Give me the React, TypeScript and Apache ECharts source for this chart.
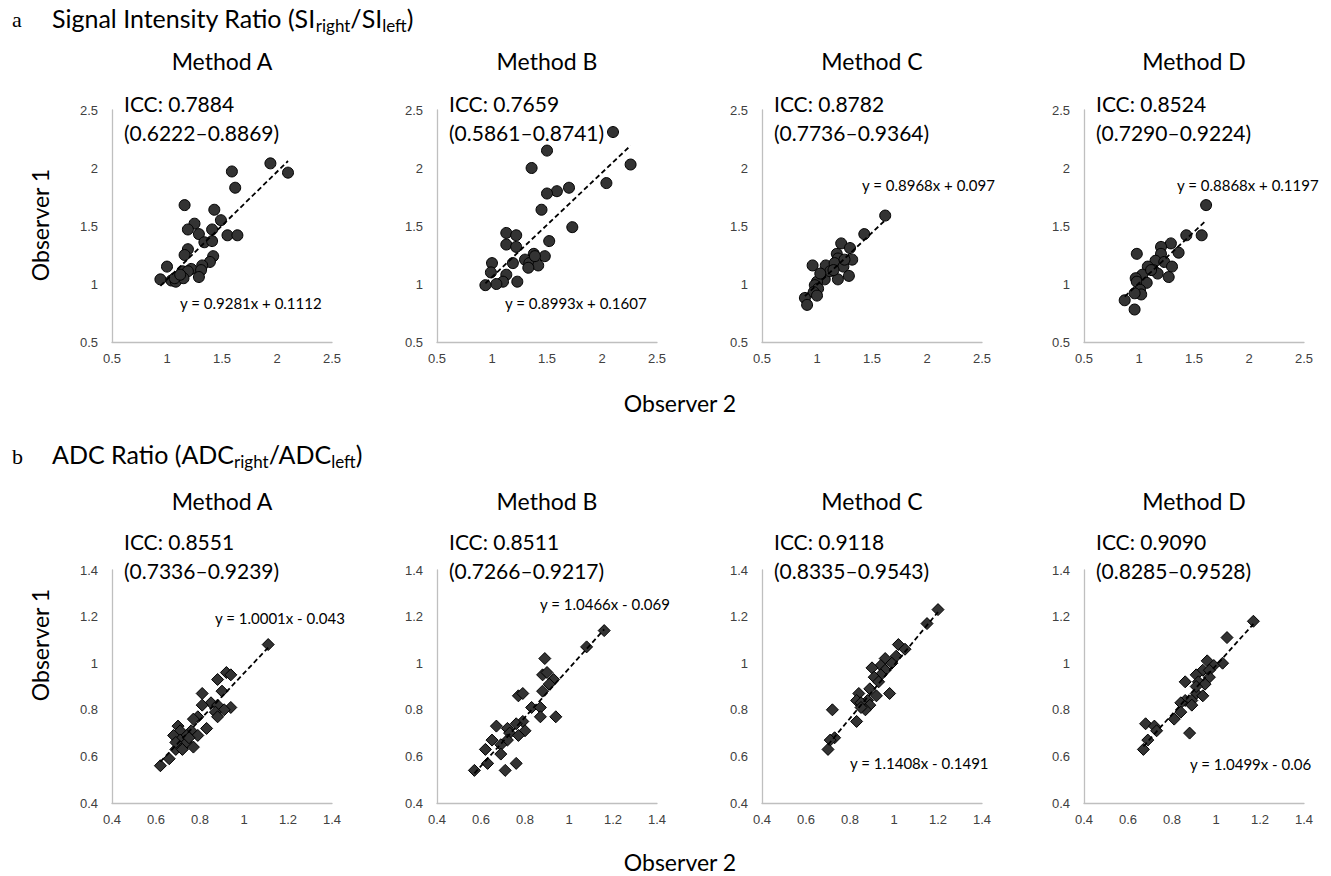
import React, { useEffect, useRef } from "react";
import * as echarts from "echarts";

// ---------- DATA ----------
// Row a: Signal Intensity Ratio (Observer 2 = x, Observer 1 = y)
const siMethodA: number[][] = [
  [1.94, 2.04], [2.10, 1.96], [1.59, 1.97], [1.62, 1.83], [1.16, 1.68], [1.43, 1.64], [1.49, 1.55], [1.25, 1.52],
  [1.19, 1.47], [1.41, 1.47], [1.29, 1.43], [1.55, 1.42], [1.64, 1.42], [1.34, 1.36], [1.41, 1.37], [1.19, 1.30],
  [1.16, 1.25], [1.42, 1.24], [1.39, 1.19], [1.00, 1.15], [1.32, 1.16], [1.22, 1.13], [1.14, 1.11], [1.31, 1.12],
  [1.19, 1.11], [0.94, 1.04], [1.04, 1.03], [1.08, 1.02], [1.15, 1.05], [1.29, 1.06], [1.07, 1.05], [1.12, 1.08],
];
const siMethodB: number[][] = [
  [2.10, 2.31], [1.50, 2.15], [1.36, 2.00], [2.26, 2.03], [2.04, 1.87], [1.70, 1.83], [1.59, 1.80], [1.50, 1.78],
  [1.45, 1.64], [1.73, 1.49], [1.52, 1.37], [1.13, 1.44], [1.22, 1.42], [1.13, 1.34], [1.22, 1.32], [1.38, 1.26],
  [1.48, 1.24], [1.30, 1.21], [1.19, 1.18], [1.34, 1.18], [1.42, 1.16], [1.33, 1.14], [1.00, 1.18], [0.99, 1.10],
  [1.13, 1.08], [1.10, 1.02], [1.04, 1.00], [0.94, 0.99], [1.23, 1.02], [1.39, 1.24],
];
const siMethodC: number[][] = [
  [1.62, 1.59], [1.43, 1.43], [1.22, 1.35], [1.30, 1.31], [1.18, 1.26], [1.32, 1.21], [1.19, 1.22], [0.96, 1.16],
  [1.08, 1.16], [1.16, 1.18], [1.24, 1.15], [1.29, 1.07], [1.19, 1.04], [1.07, 1.04], [1.00, 1.02], [0.98, 0.99],
  [1.01, 0.96], [0.97, 0.93], [1.00, 0.90], [0.89, 0.88], [0.91, 0.82], [1.12, 1.11], [1.03, 1.09], [1.25, 1.21],
  [1.15, 1.12],
];
const siMethodD: number[][] = [
  [1.61, 1.68], [1.57, 1.42], [1.43, 1.42], [1.29, 1.35], [1.20, 1.32], [1.36, 1.27], [0.98, 1.26], [1.20, 1.26],
  [1.15, 1.20], [1.23, 1.19], [1.08, 1.15], [1.30, 1.15], [1.13, 1.12], [1.17, 1.09], [1.27, 1.06], [1.03, 1.08],
  [0.97, 1.05], [0.98, 1.02], [1.07, 1.01], [1.01, 0.95], [1.02, 0.91], [0.96, 0.92], [0.87, 0.86], [0.96, 0.78],
  [1.11, 1.12],
];

// Row b: ADC Ratio
const adcMethodA: number[][] = [
  [1.11, 1.08], [0.92, 0.96], [0.94, 0.95], [0.88, 0.93], [0.90, 0.88], [0.81, 0.87], [0.85, 0.83], [0.88, 0.82],
  [0.81, 0.82], [0.94, 0.81], [0.91, 0.80], [0.87, 0.79], [0.88, 0.77], [0.79, 0.77], [0.77, 0.76], [0.83, 0.72],
  [0.70, 0.73], [0.71, 0.71], [0.76, 0.71], [0.68, 0.69], [0.74, 0.69], [0.79, 0.69], [0.71, 0.67], [0.74, 0.66],
  [0.77, 0.64], [0.69, 0.63], [0.72, 0.63], [0.66, 0.59], [0.62, 0.56], [0.69, 0.66], [0.75, 0.68],
];
const adcMethodB: number[][] = [
  [1.16, 1.14], [1.08, 1.07], [0.89, 1.02], [0.88, 0.95], [0.90, 0.96], [0.93, 0.93], [0.91, 0.91], [0.88, 0.88],
  [0.77, 0.86], [0.79, 0.87], [0.83, 0.81], [0.87, 0.81], [0.87, 0.77], [0.94, 0.77], [0.79, 0.75], [0.76, 0.74],
  [0.67, 0.73], [0.72, 0.72], [0.80, 0.71], [0.73, 0.70], [0.77, 0.69], [0.72, 0.67], [0.65, 0.67], [0.69, 0.65],
  [0.62, 0.63], [0.69, 0.61], [0.63, 0.57], [0.76, 0.57], [0.71, 0.54], [0.57, 0.54],
];
const adcMethodC: number[][] = [
  [1.20, 1.23], [1.15, 1.17], [1.02, 1.08], [1.05, 1.06], [1.01, 1.03], [0.96, 1.02], [0.99, 1.00], [0.94, 0.99],
  [0.90, 0.98], [0.96, 0.97], [0.94, 0.95], [0.91, 0.94], [0.93, 0.92], [0.89, 0.89], [0.98, 0.87], [0.84, 0.87],
  [0.92, 0.86], [0.83, 0.84], [0.88, 0.84], [0.85, 0.83], [0.89, 0.82], [0.87, 0.80], [0.72, 0.80], [0.83, 0.75],
  [0.73, 0.68], [0.71, 0.67], [0.70, 0.63], [0.85, 0.81],
];
const adcMethodD: number[][] = [
  [1.17, 1.18], [1.05, 1.11], [1.03, 1.00], [0.96, 1.01], [0.99, 0.99], [0.94, 0.97], [0.97, 0.97], [0.91, 0.95],
  [0.97, 0.94], [0.92, 0.92], [0.86, 0.92], [0.95, 0.91], [0.91, 0.87], [0.94, 0.86], [0.86, 0.84], [0.89, 0.84],
  [0.84, 0.83], [0.89, 0.82], [0.84, 0.79], [0.81, 0.76], [0.88, 0.70], [0.68, 0.74], [0.72, 0.73], [0.73, 0.71],
  [0.69, 0.67], [0.67, 0.63], [0.91, 0.90],
];

const methodNames = ["Method A", "Method B", "Method C", "Method D"];
const siSlopes = [0.9281, 0.8993, 0.8968, 0.8868];
const siIntercepts = [0.1112, 0.1607, 0.097, 0.1197];
const adcSlopes = [1.0001, 1.0466, 1.1408, 1.0499];
const adcIntercepts = [-0.043, -0.069, -0.1491, -0.06];
const siIcc = ["ICC: 0.7884", "ICC: 0.7659", "ICC: 0.8782", "ICC: 0.8524"];
const siCi = ["(0.6222–0.8869)", "(0.5861–0.8741)", "(0.7736–0.9364)", "(0.7290–0.9224)"];
const adcIcc = ["ICC: 0.8551", "ICC: 0.8511", "ICC: 0.9118", "ICC: 0.9090"];
const adcCi = ["(0.7336–0.9239)", "(0.7266–0.9217)", "(0.8335–0.9543)", "(0.8285–0.9528)"];
const siEquations = ["y = 0.9281x + 0.1112", "y = 0.8993x + 0.1607", "y = 0.8968x + 0.097", "y = 0.8868x + 0.1197"];
const adcEquations = ["y = 1.0001x - 0.043", "y = 1.0466x - 0.069", "y = 1.1408x - 0.1491", "y = 1.0499x - 0.06"];
const siAxisMin = 0.5, siAxisMax = 2.5, siAxisStep = 0.5;
const adcAxisMin = 0.4, adcAxisMax = 1.4, adcAxisStep = 0.2;

// ---------- LAYOUT (positions / styles) ----------
const FONT = "Lato, 'Open Sans', sans-serif";
const TICK_FONT = "'Liberation Sans', Arial, sans-serif";
const plotLefts = [112, 437, 762, 1084];
const plotWidth = 220;
const rowTops = [110, 570];
const rowHeights = [232, 233];
const methodTitleY = [61, 501];
const iccTextY = [103, 541];
const rowTitleY = [2, 438];
const letterY = [19, 456];
const siEqPos = [[180, 303], [505, 303], [862, 185], [1177, 185]];
const adcEqPos = [[215, 618], [540, 604], [850, 763], [1190, 764]];

const fmt = (v: number) => String(parseFloat(v.toFixed(2)));

function buildOption() {
  const grids: any[] = [];
  const xAxes: any[] = [];
  const yAxes: any[] = [];
  const series: any[] = [];
  const graphics: any[] = [];

  const rows = [
    {
      data: [siMethodA, siMethodB, siMethodC, siMethodD],
      slopes: siSlopes, intercepts: siIntercepts,
      min: siAxisMin, max: siAxisMax, step: siAxisStep,
      symbol: "circle", size: 11, icc: siIcc, ci: siCi, eq: siEquations, eqPos: siEqPos,
    },
    {
      data: [adcMethodA, adcMethodB, adcMethodC, adcMethodD],
      slopes: adcSlopes, intercepts: adcIntercepts,
      min: adcAxisMin, max: adcAxisMax, step: adcAxisStep,
      symbol: "diamond", size: 12, icc: adcIcc, ci: adcCi, eq: adcEquations, eqPos: adcEqPos,
    },
  ];

  const axisCommon = {
    axisLine: { show: true, onZero: false, lineStyle: { color: "#bfbfbf", width: 1.3 } },
    axisTick: { show: false },
    splitLine: { show: false },
  };

  rows.forEach((row, r) => {
    row.data.forEach((pts, p) => {
      const gi = grids.length;
      grids.push({
        left: plotLefts[p], top: rowTops[r], width: plotWidth, height: rowHeights[r], containLabel: false,
      });
      xAxes.push({
        type: "value", gridIndex: gi, min: row.min, max: row.max, interval: row.step, ...axisCommon,
        axisLabel: { color: "#404040", fontSize: 13, fontFamily: TICK_FONT, margin: 10, formatter: fmt },
      });
      yAxes.push({
        type: "value", gridIndex: gi, min: row.min, max: row.max, interval: row.step, ...axisCommon,
        axisLabel: { color: "#404040", fontSize: 13, fontFamily: TICK_FONT, margin: 14, formatter: fmt },
      });
      series.push({
        type: "scatter", xAxisIndex: gi, yAxisIndex: gi, data: pts,
        symbol: row.symbol, symbolSize: row.size,
        itemStyle: { color: "#333333", borderColor: "#000000", borderWidth: 1, opacity: 1 },
        z: 2,
      });
      const xs = pts.map((d) => d[0]);
      const x0 = Math.min(...xs);
      const x1 = Math.max(...xs);
      const m = row.slopes[p];
      const b = row.intercepts[p];
      series.push({
        type: "line", xAxisIndex: gi, yAxisIndex: gi,
        data: [[x0, m * x0 + b], [x1, m * x1 + b]],
        symbol: "none", silent: true,
        lineStyle: { color: "#000", width: 1.8, type: [5, 3] },
        z: 3,
      });

      const cx = plotLefts[p] + plotWidth / 2;
      graphics.push({
        type: "text", x: cx, y: methodTitleY[r],
        style: { text: methodNames[p], font: `23px ${FONT}`, fill: "#000", align: "center", verticalAlign: "middle", textAlign: "center", textVerticalAlign: "middle" },
      });
      const iccY = iccTextY[r];
      graphics.push({
        type: "text", x: plotLefts[p] + 12, y: iccY,
        style: { text: row.icc[p], font: `21px ${FONT}`, fill: "#000", align: "left", verticalAlign: "middle", textAlign: "left", textVerticalAlign: "middle" },
      });
      graphics.push({
        type: "text", x: plotLefts[p] + 12, y: iccY + 29,
        style: { text: row.ci[p], font: `21px ${FONT}`, fill: "#000", align: "left", verticalAlign: "middle", textAlign: "left", textVerticalAlign: "middle" },
      });
      graphics.push({
        type: "text", x: row.eqPos[p][0], y: row.eqPos[p][1],
        style: { text: row.eq[p], font: `15px ${FONT}`, fill: "#000", align: "left", verticalAlign: "middle", textAlign: "left", textVerticalAlign: "middle" },
      });
    });
  });

  // Panel letters and row titles
  const serif = "'Liberation Serif', 'DejaVu Serif', serif";
  graphics.push({ type: "text", x: 12, y: letterY[0], style: { text: "a", font: `22px ${serif}`, fill: "#000", verticalAlign: "middle", textVerticalAlign: "middle" } });
  graphics.push({ type: "text", x: 12, y: letterY[1], style: { text: "b", font: `22px ${serif}`, fill: "#000", verticalAlign: "middle", textVerticalAlign: "middle" } });

  const richStyles = {
    m: { fontSize: 25, fontFamily: FONT, lineHeight: 32, fill: "#000", color: "#000" },
    s: { fontSize: 17, fontFamily: FONT, lineHeight: 17, verticalAlign: "bottom", fill: "#000", color: "#000" },
  };
  graphics.push({
    type: "text", x: 52, y: rowTitleY[0],
    style: { text: "{m|Signal Intensity Ratio (SI}{s|right}{m|/SI}{s|left}{m|)}", rich: richStyles, align: "left", verticalAlign: "top", textAlign: "left", textVerticalAlign: "top" },
  });
  graphics.push({
    type: "text", x: 52, y: rowTitleY[1],
    style: { text: "{m|ADC Ratio (ADC}{s|right}{m|/ADC}{s|left}{m|)}", rich: richStyles, align: "left", verticalAlign: "top", textAlign: "left", textVerticalAlign: "top" },
  });

  // Axis titles
  [225, 645].forEach((y) => {
    graphics.push({
      type: "text", x: 40, y, rotation: Math.PI / 2,
      style: { text: "Observer 1", font: `23px ${FONT}`, fill: "#000", align: "center", verticalAlign: "middle", textAlign: "center", textVerticalAlign: "middle" },
    });
  });
  [403, 862].forEach((y) => {
    graphics.push({
      type: "text", x: 680, y,
      style: { text: "Observer 2", font: `23px ${FONT}`, fill: "#000", align: "center", verticalAlign: "middle", textAlign: "center", textVerticalAlign: "middle" },
    });
  });

  return {
    animation: false,
    backgroundColor: "#ffffff",
    grid: grids,
    xAxis: xAxes,
    yAxis: yAxes,
    series,
    graphic: { elements: graphics },
  };
}

export default function App() {
  const ref = useRef<HTMLDivElement>(null);
  useEffect(() => {
    if (!ref.current) return;
    const chart = echarts.init(ref.current, undefined, { renderer: "svg" });
    chart.setOption(buildOption() as any);
    return () => chart.dispose();
  }, []);
  return (
    <div
      ref={ref}
      style={{ position: "fixed", left: 0, top: 0, width: 1331, height: 876, background: "#fff" }}
    />
  );
}
